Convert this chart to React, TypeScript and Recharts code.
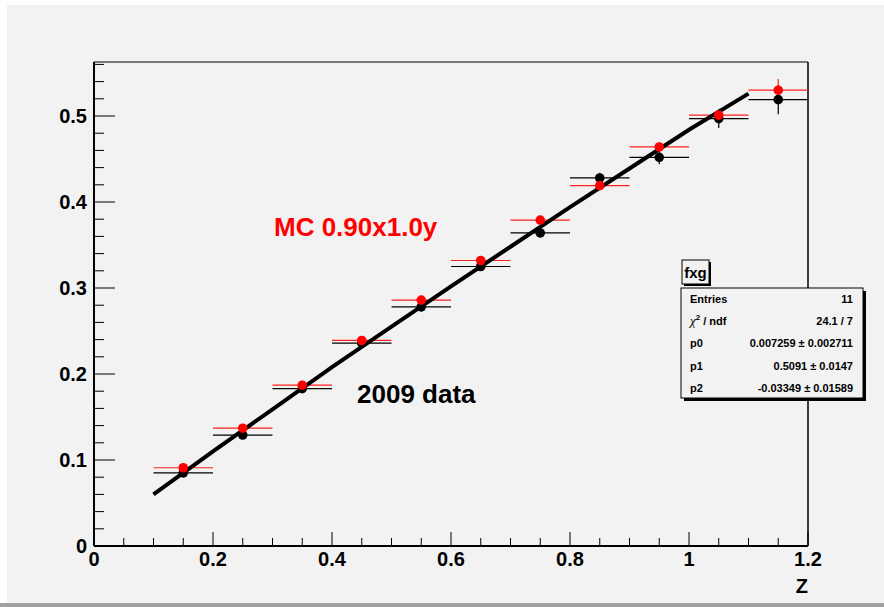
import React from 'react';
import { ComposedChart, Scatter, ErrorBar, XAxis, YAxis, ReferenceLine } from 'recharts';

// bin centres in Z
const zBins = [0.15, 0.25, 0.35, 0.45, 0.55, 0.65, 0.75, 0.85, 0.95, 1.05, 1.15];
const zHalfWidth = [0.05, 0.05, 0.05, 0.05, 0.05, 0.05, 0.05, 0.05, 0.05, 0.05, 0.05];

// 2009 data (black)
const dataValues = [0.085, 0.129, 0.183, 0.236, 0.278, 0.325, 0.364, 0.428, 0.452, 0.497, 0.519];
const dataErrors = [0.003, 0.004, 0.004, 0.004, 0.005, 0.005, 0.005, 0.006, 0.008, 0.011, 0.017];

// MC 0.90x1.0y (red)
const mcValues = [0.091, 0.137, 0.187, 0.239, 0.286, 0.332, 0.379, 0.419, 0.464, 0.501, 0.530];
const mcErrors = [0.002, 0.003, 0.003, 0.003, 0.003, 0.004, 0.004, 0.004, 0.005, 0.006, 0.013];

// fxg fit curve
const fitZ = [0.1, 0.2, 0.3, 0.4, 0.5, 0.6, 0.7, 0.8, 0.9, 1.0, 1.1];
const fitValues = [0.060, 0.110, 0.159, 0.208, 0.255, 0.302, 0.348, 0.394, 0.439, 0.484, 0.526];

const xTicks = [0, 0.05, 0.1, 0.15, 0.2, 0.25, 0.3, 0.35, 0.4, 0.45, 0.5, 0.55, 0.6,
  0.65, 0.7, 0.75, 0.8, 0.85, 0.9, 0.95, 1, 1.05, 1.1, 1.15, 1.2];
const yTicks = [0, 0.02, 0.04, 0.06, 0.08, 0.1, 0.12, 0.14, 0.16, 0.18, 0.2, 0.22, 0.24,
  0.26, 0.28, 0.3, 0.32, 0.34, 0.36, 0.38, 0.4, 0.42, 0.44, 0.46, 0.48, 0.5, 0.52, 0.54, 0.56];

const statsRows = [
  ['Entries', '11'],
  ['chi2', '24.1 / 7'],
  ['p0', '0.007259 \u00b1 0.002711'],
  ['p1', '0.5091 \u00b1 0.0147'],
  ['p2', '-0.03349 \u00b1 0.01589'],
];

const X_MAX = 1.2;
const Y_MAX = 0.5628;
const FONT = '"Liberation Sans", Arial, Helvetica, sans-serif';

const blackPoints = zBins.map((z, i) => ({ x: z, y: dataValues[i], ex: zHalfWidth[i], ey: dataErrors[i] }));
const redPoints = zBins.map((z, i) => ({ x: z, y: mcValues[i], ex: zHalfWidth[i], ey: mcErrors[i] }));
const fitPoints = fitZ.map((z, i) => ({ x: z, y: fitValues[i] }));

const isMajor = (v: number, step: number) => Math.abs(v / step - Math.round(v / step)) < 1e-6;
const fmt = (v: number) => String(Number(v.toFixed(1)));

const YTick = (props: any) => {
  const { x, y, payload } = props;
  const major = isMajor(payload.value, 0.1);
  return (
    <g>
      <line x1={x} x2={x + (major ? 21 : 10)} y1={y} y2={y} stroke="#000" strokeWidth={1} />
      {major && (
        <text x={x - 7} y={y} textAnchor="end" dominantBaseline="central"
          fontFamily={FONT} fontWeight="bold" fontSize={20} fill="#000">
          {fmt(payload.value)}
        </text>
      )}
    </g>
  );
};

const XTick = (props: any) => {
  const { x, y, payload } = props;
  const major = isMajor(payload.value, 0.2);
  return (
    <g>
      <line x1={x} x2={x} y1={y} y2={y - (major ? 14 : 8)} stroke="#000" strokeWidth={1} />
      {major && (
        <text x={x} y={y + 20} textAnchor="middle"
          fontFamily={FONT} fontWeight="bold" fontSize={20} fill="#000">
          {fmt(payload.value)}
        </text>
      )}
    </g>
  );
};

const Dot = (color: string) => (props: any) => (
  <circle cx={props.cx} cy={props.cy} r={4.8} fill={color} />
);

const StatsBox = () => (
  <svg width={884} height={607} style={{ position: 'absolute', left: 0, top: 0, pointerEvents: 'none' }}>
    <text x={274} y={236} fontFamily={FONT} fontWeight="bold" fontSize={26} fill="#ff0000">MC 0.90x1.0y</text>
    <text x={357} y={403} fontFamily={FONT} fontWeight="bold" fontSize={26} fill="#000">2009 data</text>
    <text x={808} y={593} textAnchor="end" fontFamily={FONT} fontWeight="bold" fontSize={20} fill="#000">Z</text>

    <rect x={684} y={262} width={27} height={24} fill="#000" />
    <rect x={682} y={260} width={27} height={24} fill="#f2f2f2" stroke="#000" strokeWidth={1} />
    <text x={695.5} y={278} textAnchor="middle" fontFamily={FONT} fontWeight="bold" fontSize={15} fill="#000">fxg</text>

    <rect x={684} y={291} width={182} height={110} fill="#000" />
    <rect x={681} y={288} width={182} height={110} fill="#f2f2f2" stroke="#000" strokeWidth={1} />
    {statsRows.map(([label, value], i) => (
      <g key={label} fontFamily={FONT} fontWeight="bold" fontSize={11} fill="#000">
        {label === 'chi2' ? (
          <text x={690} y={303 + i * 22.2}>
            <tspan fontWeight="normal" fontFamily="serif" fontStyle="italic" fontSize={13}>χ</tspan>
            <tspan dy={-5} fontSize={8}>2</tspan>
            <tspan dy={5}> / ndf</tspan>
          </text>
        ) : (
          <text x={690} y={303 + i * 22.2}>{label}</text>
        )}
        <text x={853} y={303 + i * 22.2} textAnchor="end">{value}</text>
      </g>
    ))}
  </svg>
);

export default function App() {
  return (
    <div style={{ position: 'absolute', left: 0, top: 0, width: 884, height: 607, background: '#f2f2f2', overflow: 'hidden' }}>
      <div style={{ position: 'absolute', left: 0, top: 0, width: 884, height: 5, background: '#fff' }} />
      <div style={{ position: 'absolute', left: 0, top: 0, width: 7, height: 603, background: '#fff' }} />
      <div style={{ position: 'absolute', left: 0, top: 603, width: 884, height: 4, background: '#a0a0a0' }} />
      <ComposedChart
        width={884}
        height={607}
        margin={{ top: 62, right: 76, bottom: 0, left: 0 }}
        style={{ position: 'absolute', left: 0, top: 0 }}
      >
        <XAxis
          type="number"
          dataKey="x"
          domain={[0, X_MAX]}
          ticks={xTicks}
          interval={0}
          height={61}
          tickSize={0}
          tickMargin={0}
          tickLine={false}
          axisLine={{ stroke: '#000', strokeWidth: 2 }}
          tick={<XTick />}
          allowDataOverflow
        />
        <YAxis
          type="number"
          dataKey="y"
          domain={[0, Y_MAX]}
          ticks={yTicks}
          interval={0}
          width={94}
          tickSize={0}
          tickMargin={0}
          tickLine={false}
          axisLine={{ stroke: '#000', strokeWidth: 2 }}
          tick={<YTick />}
          allowDataOverflow
        />
        <ReferenceLine y={Y_MAX} stroke="#000" strokeWidth={1} />
        <ReferenceLine x={X_MAX} stroke="#000" strokeWidth={1.5} />
        <Scatter
          data={fitPoints}
          line={{ stroke: '#000', strokeWidth: 4 }}
          shape={() => null}
          isAnimationActive={false}
        />
        <Scatter data={blackPoints} shape={Dot('#000')} isAnimationActive={false}>
          <ErrorBar dataKey="ex" direction="x" width={0} stroke="#000" strokeWidth={1.2} isAnimationActive={false} />
          <ErrorBar dataKey="ey" direction="y" width={0} stroke="#000" strokeWidth={1.2} isAnimationActive={false} />
        </Scatter>
        <Scatter data={redPoints} shape={Dot('#ff0000')} isAnimationActive={false}>
          <ErrorBar dataKey="ex" direction="x" width={0} stroke="#ff2020" strokeWidth={1.2} isAnimationActive={false} />
          <ErrorBar dataKey="ey" direction="y" width={0} stroke="#ff2020" strokeWidth={1.2} isAnimationActive={false} />
        </Scatter>
      </ComposedChart>
      <StatsBox />
    </div>
  );
}
